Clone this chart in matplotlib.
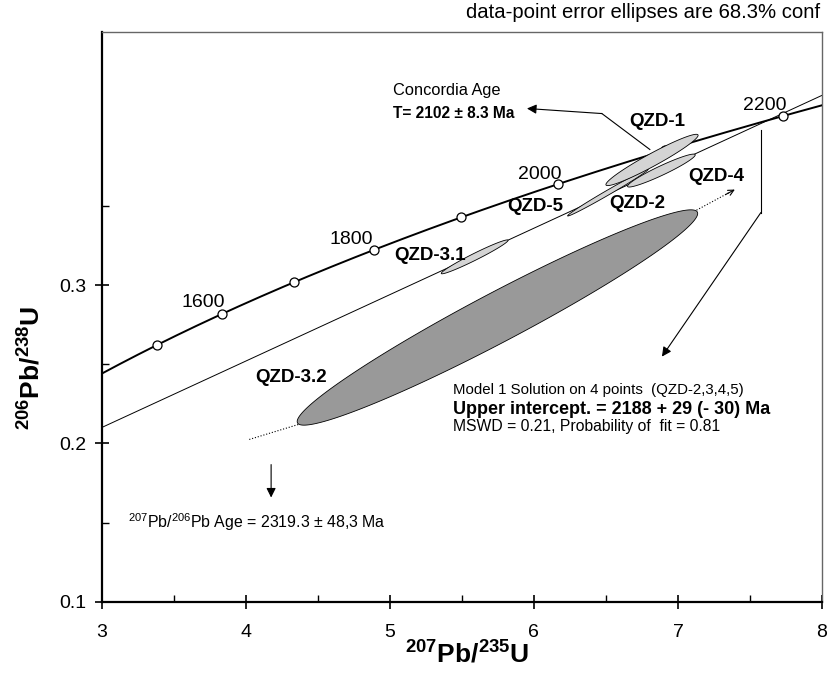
import numpy as np
import matplotlib
matplotlib.use("Agg")
import matplotlib.pyplot as plt
from matplotlib.patches import Polygon

plt.rcParams['font.family'] = ['Liberation Sans', 'DejaVu Sans']
plt.rcParams['mathtext.fontset'] = 'custom'
plt.rcParams['mathtext.rm'] = 'Liberation Sans'
plt.rcParams['mathtext.bf'] = 'Liberation Sans:bold'
plt.rcParams['mathtext.it'] = 'Liberation Sans:italic'

# ---------------- data ----------------
LAMBDA_238 = 1.55125e-10
LAMBDA_235 = 9.8485e-10

marker_ages = [1500, 1600, 1700, 1800, 1900, 2000, 2100, 2200]
label_ages = [1600, 1800, 2000, 2200]

# error ellipses: centre, half-range in x and y, error correlation
ell_cx = [5.747, 6.514, 6.885, 6.820, 5.589]
ell_cy = [0.2795, 0.3584, 0.3723, 0.3790, 0.3178]
ell_dx = [1.39, 0.28, 0.235, 0.32, 0.232]
ell_dy = [0.068, 0.0148, 0.0104, 0.0162, 0.0107]
ell_rho = [0.966, 0.993, 0.95, 0.96, 0.975]
ell_fill = ['#999999', '#d4d4d4', '#d4d4d4', '#d4d4d4', '#d4d4d4']

sample_labels = ['QZD-1', 'QZD-4', 'QZD-2', 'QZD-5', 'QZD-3.1', 'QZD-3.2']

upper_intercept_age = 2188.0   # Ma
discordia_y_at_x3 = 0.210

x_ticks = [3, 4, 5, 6, 7, 8]
y_ticks = [0.1, 0.2, 0.3]
y_tick_labels = ['0.1', '0.2', '0.3']


def concordia(t_ma):
    t = np.asarray(t_ma) * 1e6
    return np.exp(LAMBDA_235 * t) - 1, np.exp(LAMBDA_238 * t) - 1


# ---------------- figure ----------------
W, H = 831, 677
fig = plt.figure(figsize=(W / 100, H / 100), dpi=100)
L, R, T, B = 101.7, 822.0, 31.7, 601.7
ax = fig.add_axes([L / W, 1 - B / H, (R - L) / W, (B - T) / H])
ax.set_xlim(3, 8)
ax.set_ylim(0.1, 0.46)

# concordia curve
t0 = np.log(1 + 3) / LAMBDA_235 / 1e6
t1 = np.log(1 + 8) / LAMBDA_235 / 1e6
tt = np.linspace(t0, t1, 400)
cx, cy = concordia(tt)
ax.plot(cx, cy, color='black', lw=1.4, zorder=3)
mx, my = concordia(marker_ages)
ax.plot(mx, my, 'o', ms=6.5, mfc='white', mec='black', mew=0.9, zorder=4)

# discordia line
ux, uy = concordia(upper_intercept_age)
slope = (uy - discordia_y_at_x3) / (ux - 3)
xl = np.array([3, 8])
ax.plot(xl, discordia_y_at_x3 + slope * (xl - 3), color='black', lw=0.7, zorder=2)

# ellipses
th = np.linspace(0, 2 * np.pi, 300)
for x0, y0, dx, dy, r, fc in zip(ell_cx, ell_cy, ell_dx, ell_dy, ell_rho, ell_fill):
    ex = x0 + dx * np.cos(th)
    ey = y0 + dy * (r * np.cos(th) + np.sqrt(1 - r * r) * np.sin(th))
    ax.add_patch(Polygon(np.column_stack([ex, ey]), closed=True, fc=fc,
                         ec='black', lw=0.6, zorder=5))

# age labels on concordia
age_label_pos = {1600: (3.706, 0.2889), 1800: (4.733, 0.3287),
                 2000: (6.042, 0.3698), 2200: (7.602, 0.4134)}
for a in label_ages:
    px, py = age_label_pos[a]
    ax.text(px, py, str(a), fontsize=14, ha='center', va='center', zorder=6)

# sample labels
lab_pos = [(6.854, 0.4035), (7.266, 0.3687), (6.718, 0.3515), (6.010, 0.3498),
           (5.278, 0.3186), (4.314, 0.2416)]
for s, (px, py) in zip(sample_labels, lab_pos):
    ax.text(px, py, s, fontsize=13.5, fontweight='bold', ha='center', va='center', zorder=6)

# concordia age annotation
ax.text(5.025, 0.4229, 'Concordia Age', fontsize=11.8, ha='left', va='center')
ax.text(5.025, 0.4083, 'T= 2102 ± 8.3 Ma', fontsize=11.2, fontweight='bold', ha='left', va='center')
ax.plot([6.805, 6.472], [0.3856, 0.4083], color='black', lw=0.8, zorder=6)
ax.annotate('', xy=(5.952, 0.4115), xytext=(6.472, 0.4083),
            arrowprops=dict(arrowstyle='-|>', color='black', lw=0.8, mutation_scale=14,
                            shrinkA=0, shrinkB=0), zorder=6)

# upper intercept annotation
ax.plot([7.576, 7.576], [0.3982, 0.3458], color='black', lw=0.8, zorder=6)
ax.annotate('', xy=(6.889, 0.2548), xytext=(7.576, 0.3458),
            arrowprops=dict(arrowstyle='-|>', color='black', lw=0.8, mutation_scale=14,
                            shrinkA=0, shrinkB=0), zorder=6)
ax.text(5.438, 0.2335, 'Model 1 Solution on 4 points  (QZD-2,3,4,5)', fontsize=10.8,
        ha='left', va='center')
ax.text(5.438, 0.2216, 'Upper intercept. = 2188 + 29 (- 30) Ma', fontsize=13,
        fontweight='bold', ha='left', va='center')
ax.text(5.438, 0.2104, 'MSWD = 0.21, Probability of  fit = 0.81', fontsize=11.3,
        ha='left', va='center')

# dotted extensions
ax.plot([4.364, 4.022], [0.2119, 0.2024], color='black', lw=0.8, ls=':', zorder=6)
ax.plot([7.129, 7.36], [0.3473, 0.3586], color='black', lw=0.8, ls=':', zorder=6)
ax.annotate('', xy=(7.395, 0.3603), xytext=(7.33, 0.3571),
            arrowprops=dict(arrowstyle='->', color='black', lw=0.8, mutation_scale=10,
                            shrinkA=0, shrinkB=0), zorder=6)

# Pb-Pb age annotation
ax.annotate('', xy=(4.176, 0.1658), xytext=(4.176, 0.1866),
            arrowprops=dict(arrowstyle='-|>', color='black', lw=0.8, mutation_scale=14,
                            shrinkA=0, shrinkB=0), zorder=6)
ax.text(3.182, 0.150, r'$^{207}$Pb/$^{206}$Pb Age = 2319.3 ± 48,3 Ma', fontsize=11.4,
        ha='left', va='center')

# axes styling
ax.set_xticks(x_ticks)
ax.set_xticklabels([str(v) for v in x_ticks])
ax.set_xticks(np.arange(3.5, 8, 1.0), minor=True)
ax.set_yticks(y_ticks)
ax.set_yticklabels(y_tick_labels)
ax.set_yticks([0.15, 0.25, 0.35], minor=True)
ax.tick_params(which='major', direction='inout', length=10, width=1.2, labelsize=14, pad=6)
ax.tick_params(axis='x', which='major', pad=11)
ax.tick_params(which='minor', direction='in', length=5, width=1.0)
for side in ['left', 'bottom']:
    ax.spines[side].set_linewidth(1.6)
    ax.spines[side].set_color('black')
for side in ['top', 'right']:
    ax.spines[side].set_linewidth(1.0)
    ax.spines[side].set_color('#666666')

fig.text(467 / W, 1 - 655 / H, r'$\mathbf{^{207}Pb/^{235}U}$', fontsize=19,
         ha='center', va='center')
fig.text(32 / W, 1 - 368 / H, r'$\mathbf{^{206}Pb/^{238}U}$', fontsize=19,
         ha='center', va='center', rotation=90)
fig.text(820 / W, 1 - 13 / H, 'data-point error ellipses are 68.3% conf', fontsize=14.6,
         ha='right', va='center')

fig.savefig('out.png', dpi=100)
